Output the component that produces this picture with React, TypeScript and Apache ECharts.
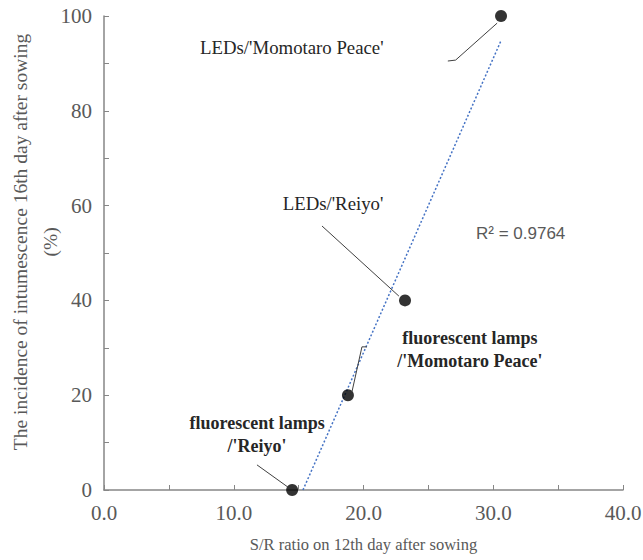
import React, { useEffect, useRef } from 'react';
import * as echarts from 'echarts';

// S/R ratio (x) and incidence of intumescence (y)
const srRatio = [14.5, 18.8, 23.2, 30.6];
const incidence = [0, 20, 40, 100];
const xTickLabels = ['0.0', '10.0', '20.0', '30.0', '40.0'];
const yTickLabels = ['0', '20', '40', '60', '80', '100'];
const r2Text = 'R² = 0.9764';
const xTitle = 'S/R ratio on 12th day after sowing';
const yTitle = 'The incidence of intumescence 16th day after sowing\n(%)';

// annotation texts, anchored in data units
const annoTexts = ["LEDs/'Momotaro Peace'", "LEDs/'Reiyo'", "fluorescent lamps\n/'Momotaro Peace'", "fluorescent lamps\n/'Reiyo'"];
const annoAnchors: number[][] = [[7.4, 93.4], [17.65, 60.5], [28.2, 29.7], [11.8, 11.7]];
const annoAlign = ['left', 'center', 'center', 'center'];
const annoBold = [false, false, true, true];
const leaders: number[][][] = [
  [[26.5, 90.5], [27.1, 90.7], [30.3, 98.5]],
  [[16.8, 55.7], [22.73, 40.9]],
  [[20.27, 30.2], [19.88, 30.2], [19.11, 20.7]],
  [[11.79, 5.3], [14.18, 0.6]],
];
const r2Anchor = [28.67, 54.2];

const SERIF = '"Liberation Serif", "Times New Roman", serif';
const AXIS_COLOR = '#868686';
const TEXT_GRAY = '#595959';

function linearFit(xs: number[], ys: number[]) {
  const n = xs.length;
  const mx = xs.reduce((a, b) => a + b, 0) / n;
  const my = ys.reduce((a, b) => a + b, 0) / n;
  let sxx = 0, sxy = 0;
  for (let i = 0; i < n; i++) { sxx += (xs[i] - mx) ** 2; sxy += (xs[i] - mx) * (ys[i] - my); }
  const slope = sxy / sxx;
  return { slope, intercept: my - slope * mx };
}

export default function App() {
  const ref = useRef<HTMLDivElement>(null);
  useEffect(() => {
    const chart = echarts.init(ref.current!, null, { renderer: 'svg' });
    const { slope, intercept } = linearFit(srRatio, incidence);
    const xStart = Math.max(Math.min(...srRatio), -intercept / slope);
    const xEnd = Math.max(...srRatio);
    const trend = [[xStart, slope * xStart + intercept], [xEnd, slope * xEnd + intercept]];

    chart.setOption({
      animation: false,
      grid: { left: 104, top: 16, width: 519, height: 474, containLabel: false, outerBoundsMode: 'none' },
      xAxis: {
        type: 'value', min: 0, max: 40, interval: 5,
        axisLine: { lineStyle: { color: AXIS_COLOR, width: 1.5 } },
        axisTick: { inside: true, length: 5, lineStyle: { color: AXIS_COLOR, width: 1 } },
        splitLine: { show: false },
        axisLabel: {
          formatter: (v: number) => (v % 10 === 0 ? xTickLabels[v / 10] : ''),
          color: TEXT_GRAY, fontFamily: SERIF, fontSize: 21, margin: 12,
        },
        name: xTitle, nameLocation: 'middle', nameGap: 46, nameMoveOverlap: false,
        nameTextStyle: { color: TEXT_GRAY, fontFamily: SERIF, fontSize: 16.5 },
      },
      yAxis: {
        type: 'value', min: 0, max: 100, interval: 10,
        axisLine: { show: true, lineStyle: { color: AXIS_COLOR, width: 1.5 } },
        axisTick: { show: true, inside: true, length: 5, lineStyle: { color: AXIS_COLOR, width: 1 } },
        splitLine: { show: false },
        axisLabel: {
          formatter: (v: number) => (v % 20 === 0 ? yTickLabels[v / 20] : ''),
          color: TEXT_GRAY, fontFamily: SERIF, fontSize: 21, margin: 12,
        },
      },
      series: [
        {
          type: 'line', data: trend, showSymbol: false, z: 2,
          lineStyle: { type: [2, 2], color: '#4472C4', width: 1.5 },
        },
        {
          type: 'scatter', data: srRatio.map((x, i) => [x, incidence[i]]),
          symbol: 'circle', symbolSize: 12, itemStyle: { color: '#000' }, z: 5,
        },
      ],
    });

    const px = (p: number[]) => chart.convertToPixel({ gridIndex: 0 }, p) as number[];
    const graphic: any[] = [];
    // y-axis title, rotated
    graphic.push({
      type: 'text', x: 35, y: 242, rotation: Math.PI / 2, silent: true,
      style: {
        text: yTitle, fill: TEXT_GRAY, font: `19.5px ${SERIF}`, lineHeight: 30,
        textAlign: 'center', align: 'center', textVerticalAlign: 'middle', verticalAlign: 'middle',
      },
    });
    leaders.forEach((pts) => {
      graphic.push({
        type: 'polyline', z: 10, silent: true,
        shape: { points: pts.map(px) },
        style: { stroke: '#404040', lineWidth: 1, fill: null },
      });
    });
    annoTexts.forEach((t, i) => {
      const [x, y] = px(annoAnchors[i]);
      graphic.push({
        type: 'text', x, y, z: 10, silent: true,
        style: {
          text: t, fill: '#262626', font: `${annoBold[i] ? 'bold 18px' : '18.8px'} ${SERIF}`,
          textAlign: annoAlign[i], align: annoAlign[i], textVerticalAlign: 'middle', verticalAlign: 'middle', lineHeight: 23,
        },
      });
    });
    const [rx, ry] = px(r2Anchor);
    graphic.push({
      type: 'text', x: rx, y: ry, z: 10, silent: true,
      style: { text: r2Text, fill: TEXT_GRAY, font: '17px "Liberation Sans", Arial, sans-serif', textVerticalAlign: 'middle', verticalAlign: 'middle' },
    });
    chart.setOption({ graphic });

    return () => chart.dispose();
  }, []);
  return <div ref={ref} style={{ position: 'absolute', left: 0, top: 0, width: 643, height: 560 }} />;
}
